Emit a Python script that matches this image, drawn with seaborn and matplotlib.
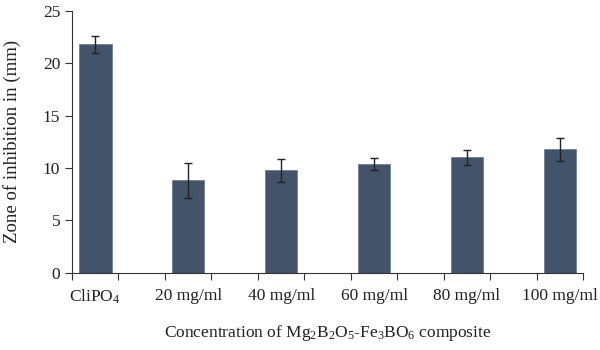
import matplotlib
matplotlib.use("Agg")
import matplotlib.pyplot as plt
import seaborn as sns
import numpy as np
import pandas as pd

categories = ["CliPO$_4$", "20 mg/ml", "40 mg/ml", "60 mg/ml", "80 mg/ml", "100 mg/ml"]
values = [21.8, 8.8, 9.8, 10.4, 11.0, 11.8]
errors = [0.8, 1.7, 1.1, 0.55, 0.7, 1.1]

sns.set_style("white")
plt.rcParams['font.family'] = ['Liberation Serif', 'DejaVu Serif']
plt.rcParams['mathtext.fontset'] = 'custom'
plt.rcParams['mathtext.rm'] = 'Liberation Serif'
plt.rcParams['mathtext.it'] = 'Liberation Serif:italic'

df = pd.DataFrame({"cat": categories, "val": values})

fig = plt.figure(figsize=(6, 3.5), dpi=100)
ax = fig.add_axes([0.12, 0.221, 0.852, 0.748])
sns.barplot(data=df, x="cat", y="val", color="#435369", saturation=1,
            width=0.35, edgecolor="#6f7f95", linewidth=0.6, ax=ax, errorbar=None)
ax.errorbar(np.arange(len(values)), values, yerr=errors, fmt="none",
            ecolor="#222222", elinewidth=1.0, capsize=3, capthick=1.0)

n = len(categories)
ax.set_xlim(-0.25, n - 0.75)
ax.set_ylim(0, 25)
ax.set_yticks([0, 5, 10, 15, 20, 25])
ax.set_xticks(np.arange(-0.25, n - 0.5, 0.5))
ax.set_xticklabels([])
ax.set_xticks(np.arange(n), minor=True)
ax.set_xticklabels(categories, minor=True)
ax.tick_params(axis="x", which="major", direction="out", length=5, width=0.8, color="#333333", bottom=True)
ax.tick_params(axis="x", which="minor", length=0, labelsize=12.5, pad=11, colors="#222222")
ax.tick_params(axis="y", direction="out", length=5, width=0.8, color="#333333", labelsize=12.5, left=True, labelcolor="#222222")

for s in ["top", "right"]:
    ax.spines[s].set_visible(False)
for s in ["left", "bottom"]:
    ax.spines[s].set_color("#333333")
    ax.spines[s].set_linewidth(0.8)

ax.set_xlabel("Concentration of Mg$_2$B$_2$O$_5$-Fe$_3$BO$_6$ composite", fontsize=12.5, labelpad=12, color="#222222")
ax.set_ylabel("Zone of inhibition in (mm)", fontsize=13.5, labelpad=16, color="#222222")

fig.savefig("out.png", dpi=100)
